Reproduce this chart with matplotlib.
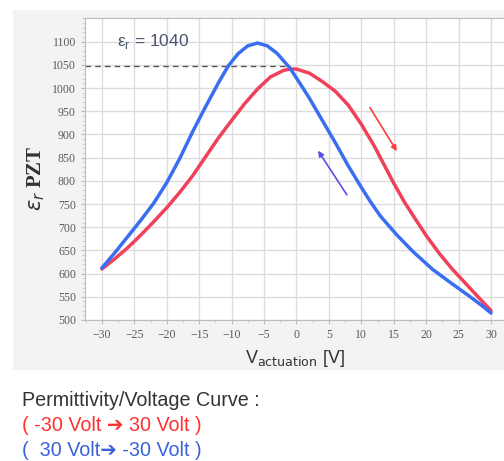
import matplotlib
matplotlib.use("Agg")
import matplotlib.pyplot as plt
from matplotlib.patches import Rectangle
from matplotlib.ticker import MultipleLocator

# Data
v_red = [-30, -28, -26, -24, -22, -20, -18, -16, -14, -12, -10, -8, -6, -4, -2, -1, 0,
         2, 4, 6, 8, 10, 12, 13.5, 15, 16.7, 18.5, 20, 22, 24, 26, 28, 30]
eps_red = [610, 632, 656, 683, 712, 742, 775, 811, 852, 893, 930, 966, 998, 1024, 1038, 1041, 1041,
           1032, 1014, 993, 963, 922, 875, 835, 795, 753, 714, 682, 644, 610, 580, 550, 520]

v_blue = [-30, -28, -26, -24, -22, -20, -18, -16, -14, -12, -10.5, -9, -7.5, -6, -4.5, -3, -1,
          1, 2, 4, 6, 8, 10, 11.5, 13, 15.5, 18, 21, 24, 26.5, 28.5, 30]
eps_blue = [612, 645, 680, 715, 752, 796, 848, 906, 960, 1012, 1048, 1074, 1091, 1097, 1091, 1075, 1043,
            1000, 978, 930, 882, 832, 786, 753, 723, 683, 647, 609, 578, 553, 532, 515]

x_ticks = [-30, -25, -20, -15, -10, -5, 0, 5, 10, 15, 20, 25, 30]
y_ticks = [500, 550, 600, 650, 700, 750, 800, 850, 900, 950, 1000, 1050, 1100]
eps_r = 1040
dash_level = 1048
dash_end = -1

fig = plt.figure(figsize=(5.04, 4.61), dpi=100)
W, H = 504, 461
# gray panel
fig.patches.append(Rectangle((13 / W, 1 - 370 / H), (W - 13) / W, (370 - 10) / H,
                             transform=fig.transFigure, facecolor="#f3f3f3", edgecolor="none", zorder=-5))

ax = fig.add_axes([85 / W, 1 - 320 / H, (W - 85) / W, (320 - 18) / H])
ax.set_zorder(2)
ax.set_facecolor("white")
ax.set_xlim(-32.6, 32.0)
ax.set_ylim(500, 1151)
ax.set_xticks(x_ticks)
ax.set_yticks(y_ticks)
ax.xaxis.set_minor_locator(MultipleLocator(2.5))
ax.yaxis.set_minor_locator(MultipleLocator(10))
ax.grid(True, which="major", color="#dcdcdc", lw=1.0)
ax.set_axisbelow(True)
ax.spines["right"].set_visible(False)
for s in ["left", "bottom", "top"]:
    ax.spines[s].set_color("#bbbbbb")
ax.tick_params(axis="both", which="major", labelsize=8.5, labelcolor="#5a5a5a", color="#bbbbbb", length=3)
ax.tick_params(axis="both", which="minor", color="#cccccc", length=2)
for lab in ax.get_xticklabels() + ax.get_yticklabels():
    lab.set_family("Liberation Serif")

ax.plot(v_red, eps_red, color="#f0405a", lw=2.5, solid_capstyle="round", solid_joinstyle="round", zorder=3)
ax.plot(v_blue, eps_blue, color="#3a6ef2", lw=2.5, solid_capstyle="round", solid_joinstyle="round", zorder=4)

ax.plot([-32.6, dash_end], [dash_level, dash_level], ls=(0, (4, 3)), color="#555555", lw=1.0, zorder=2)
ax.text(-27.6, 1101, "\u03b5$_\\mathregular{r}$ = %d" % eps_r, fontsize=12.5, color="#4a5670",
        va="center", ha="left", family="Liberation Sans")

ax.annotate("", xy=(15.7, 859), xytext=(11.1, 963),
            arrowprops=dict(arrowstyle="-|>", color="#ff3b3b", lw=1.2, mutation_scale=8), zorder=5)
ax.annotate("", xy=(3.1, 870), xytext=(8.0, 765),
            arrowprops=dict(arrowstyle="-|>", color="#5a4fe8", lw=1.2, mutation_scale=8), zorder=5)

ax.set_ylabel(r"$\epsilon_r$ PZT", fontsize=15, family="Liberation Serif", color="#333333",
              fontweight="bold")
ax.yaxis.set_label_coords(-0.09, 0.47)
ax.set_xlabel(r"V$_{\mathrm{actuation}}$ [V]", fontsize=13, family="Liberation Sans", color="#333333",
              labelpad=5)

fam = ["Liberation Sans", "DejaVu Sans"]
fig.text(22 / W, 1 - 400 / H, "Permittivity/Voltage Curve :", fontsize=14.2, color="#333333",
         family=fam, va="center", ha="left")
fig.text(22 / W, 1 - 425 / H, "( -30 Volt \u2794 30 Volt )", fontsize=14.2, color="#ff3030",
         family=fam, va="center", ha="left")
fig.text(22 / W, 1 - 450 / H, "(  30 Volt\u2794 -30 Volt )", fontsize=14.2, color="#3a62d8",
         family=fam, va="center", ha="left")

fig.savefig("out.png", dpi=100)
